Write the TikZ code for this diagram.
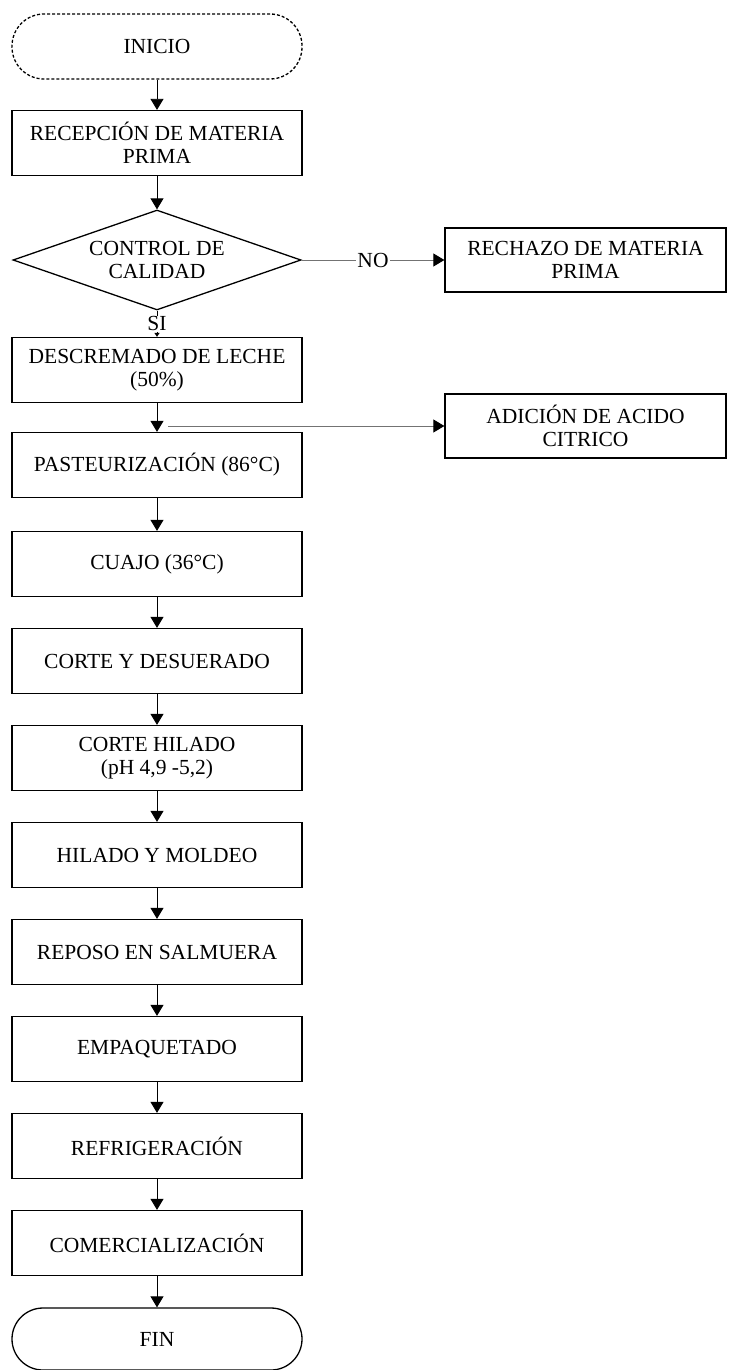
\documentclass[tikz,border=0pt]{standalone}
\usepackage{fontspec}
\setmainfont{Liberation Serif}
\usetikzlibrary{arrows.meta,shapes.geometric}

\tikzset{
  txt/.style={font=\fontsize{21.5}{23}\selectfont},
  stepbox/.style={txt, draw, line width=1.3pt, minimum width=290pt, minimum height=65pt, align=center, inner sep=2pt},
  sidebox/.style={stepbox, minimum width=281pt, minimum height=64pt},
  terminal/.style={txt, draw, line width=1.3pt, rounded corners=31pt, minimum width=290pt, minimum height=62pt},
  decision/.style={txt, draw, diamond, aspect=2.9, inner sep=0pt, minimum width=288pt, minimum height=100pt, line width=1.3pt, align=center},
  flow/.style={-{Triangle[length=11pt,width=13pt]}, line width=0.9pt},
  branch/.style={line width=0.9pt, draw=black!55, -{Triangle[length=11pt,width=13pt,color=black]}},
  lbl/.style={txt, fill=white, inner sep=1pt, text=black},
}

\begin{document}
\begin{tikzpicture}[x=1pt,y=-1pt]
    \useasboundingbox (0,0) rectangle (728,1370);

    % Start
    \node[terminal, dash pattern=on 3pt off 2pt, minimum height=65pt, rounded corners=32pt] (inicio) at (157,46.5) {INICIO};
    \node[stepbox] (recep) at (157,143) {RECEPCIÓN DE MATERIA\\PRIMA};

    % Quality check
    \node[decision] (control) at (157,260) {CONTROL DE\\CALIDAD};
    \node[sidebox] (rechazo) at (585.5,260) {RECHAZO DE MATERIA\\PRIMA};

    % Process steps
    \node[stepbox] (desc) at (157,370) {DESCREMADO DE LECHE\\(50\%)};
    \node[sidebox] (acido) at (585.5,426) {ADICIÓN DE ACIDO\\CITRICO};
    \node[stepbox] (past) at (157,465) {PASTEURIZACIÓN (86°C)};
    \node[stepbox] (cuajo) at (157,564) {CUAJO (36°C)};
    \node[stepbox] (desuer) at (157,661) {CORTE Y DESUERADO};
    \node[stepbox] (chilado) at (157,758) {CORTE HILADO\\(pH 4,9 -5,2)};
    \node[stepbox] (moldeo) at (157,855) {HILADO Y MOLDEO};
    \node[stepbox] (salmuera) at (157,952) {REPOSO EN SALMUERA};
    \node[stepbox] (empaq) at (157,1049) {EMPAQUETADO};
    \node[stepbox] (refrig) at (157,1146) {REFRIGERACIÓN};
    \node[stepbox] (comerc) at (157,1243) {COMERCIALIZACIÓN};

    % End
    \node[terminal] (fin) at (157,1339) {FIN};

    % Connectors
    \draw[flow] (inicio) -- (recep);
    \draw[flow] (recep) -- (control);
    \draw[branch] (control.east) -- node[lbl] {NO} (rechazo.west);
    \draw[-{Triangle[length=4pt,width=5pt]}, line width=0.9pt] (control.south) -- node[lbl] {SI} (desc.north);
    \coordinate (tap) at (168,426);
    \draw[branch] (tap) -- (acido.west);
    \foreach \a/\b in {desc/past, past/cuajo, cuajo/desuer, desuer/chilado, chilado/moldeo,
                       moldeo/salmuera, salmuera/empaq, empaq/refrig, refrig/comerc, comerc/fin}
        \draw[flow] (\a) -- (\b);
\end{tikzpicture}
\end{document}
